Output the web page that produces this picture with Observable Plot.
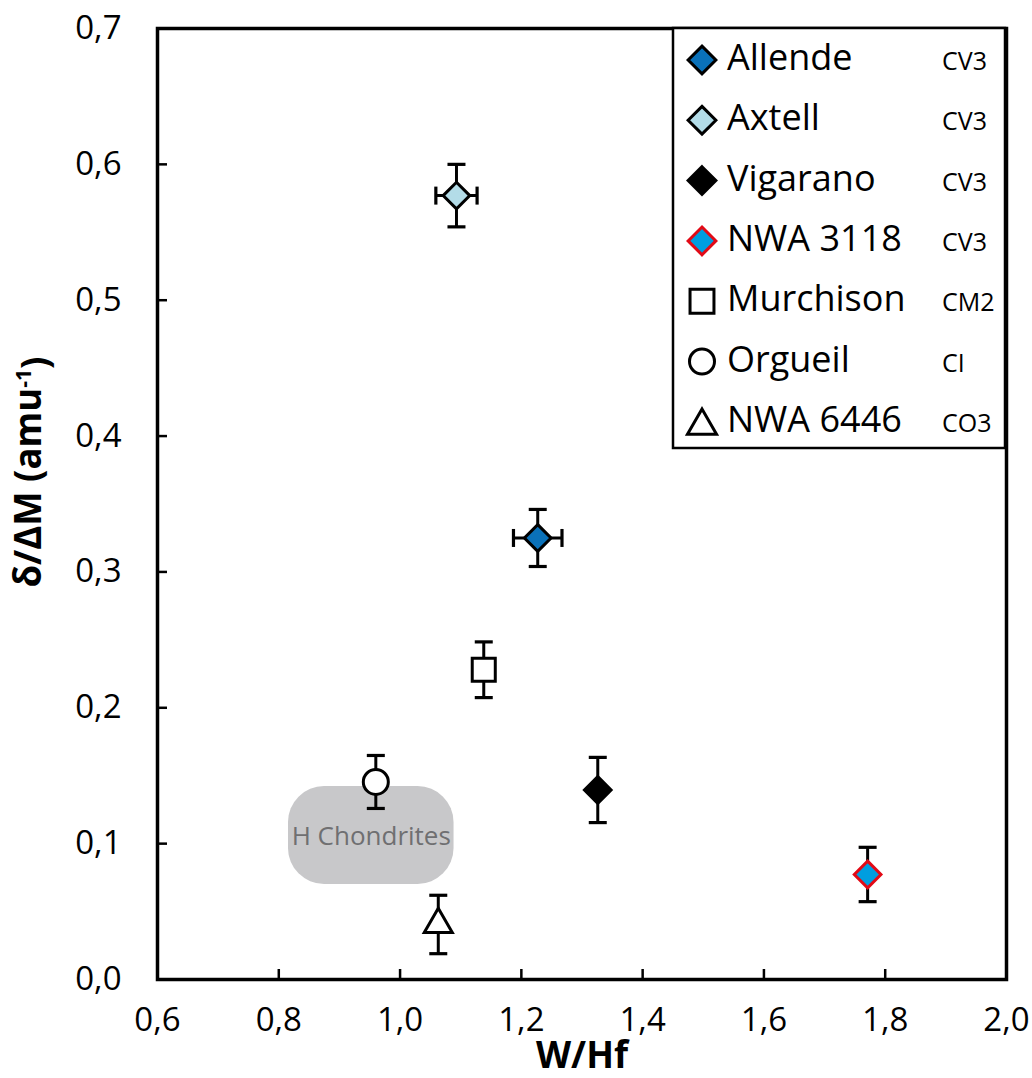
<!DOCTYPE html>
<html><head><meta charset="utf-8">
<script src="https://cdn.jsdelivr.net/npm/d3@7"></script>
<script src="https://cdn.jsdelivr.net/npm/@observablehq/plot@0.6"></script>
<style>
html,body{margin:0;padding:0;background:#fff;}
#chart{position:relative;width:1032px;height:1078px;}
</style></head><body><div id="chart"></div>
<script>
// ---- data ----
const samples = ["Allende", "Axtell", "Vigarano", "NWA 3118", "Murchison", "Orgueil", "NWA 6446"];
const groups = ["CV3", "CV3", "CV3", "CV3", "CM2", "CI", "CO3"];
const wHf = [1.227, 1.093, 1.326, 1.771, 1.138, 0.960, 1.063];
const wHfErr = [0.040, 0.034, 0, 0, 0, 0, 0];
const deltaPerAmu = [0.325, 0.577, 0.1395, 0.0773, 0.228, 0.1454, 0.0405];
const deltaErr = [0.021, 0.023, 0.024, 0.020, 0.0205, 0.0195, 0.0215];
const hChondritesWHf = [0.816, 1.089];
const hChondritesDelta = [0.070, 0.142];
const hChondritesLabel = "H Chondrites";
const xTicks = [0.6, 0.8, 1.0, 1.2, 1.4, 1.6, 1.8, 2.0];
const yTicks = [0, 0.1, 0.2, 0.3, 0.4, 0.5, 0.6, 0.7];
const xTitle = "W/Hf";
const yTitleMain = "δ/ΔM (amu";
const yTitleSup = "-1";
const yTitleEnd = ")";

// ---- styles ----
const styles = {
  "Allende":   {symbol: "diamond2", d3sym: d3.symbolDiamond2, fill: "#0a71b9", stroke: "#000", r: 12.0, lr: 12.5},
  "Axtell":    {symbol: "diamond2", d3sym: d3.symbolDiamond2, fill: "#b3dce8", stroke: "#000", r: 12.0, lr: 12.5},
  "Vigarano":  {symbol: "diamond2", d3sym: d3.symbolDiamond2, fill: "#000", stroke: "#000", r: 12.0, lr: 12.5},
  "NWA 3118":  {symbol: "diamond2", d3sym: d3.symbolDiamond2, fill: "#009ee0", stroke: "#e20a16", r: 12.0, lr: 12.5},
  "Murchison": {symbol: "square", d3sym: d3.symbolSquare, fill: "#fff", stroke: "#000", r: 13.0, lr: 13.5},
  "Orgueil":   {symbol: "circle", d3sym: d3.symbolCircle, fill: "#fff", stroke: "#000", r: 12.5, lr: 12.5},
  "NWA 6446":  {symbol: "triangle", d3sym: d3.symbolTriangle, fill: "#fff", stroke: "#000", r: 10.4, lr: 10.8}
};

const data = samples.map((s, i) => ({
  name: s, group: groups[i], x: wHf[i], xe: wHfErr[i], y: deltaPerAmu[i], ye: deltaErr[i]
}));
const withXerr = data.filter(d => d.xe > 0);
const hc = [{x1: hChondritesWHf[0], x2: hChondritesWHf[1], y1: hChondritesDelta[0], y2: hChondritesDelta[1]}];

const hCap = {draw(ctx, size) { const w = Math.sqrt(size) / 2; ctx.moveTo(-w, 0); ctx.lineTo(w, 0); }};
const vCap = {draw(ctx, size) { const w = Math.sqrt(size) / 2; ctx.moveTo(0, -w); ctx.lineTo(0, w); }};
const capR = 18 / Math.sqrt(Math.PI);
const fmt = d => d.toFixed(1).replace(".", ",");

const plot = Plot.plot({
  width: 1032, height: 1078,
  marginLeft: 157, marginRight: 26, marginTop: 28, marginBottom: 99,
  style: {fontFamily: "'Open Sans', sans-serif", fontSize: "33px", color: "#000", background: "#fff", overflow: "visible"},
  x: {domain: [0.6, 2.0], label: null},
  y: {domain: [0, 0.7], label: null},
  marks: [
    Plot.rect(hc, {x1: "x1", x2: "x2", y1: "y1", y2: "y2", rx: 36, fill: "#c8c8ca"}),
    Plot.text(hc, {x: d => (d.x1 + d.x2) / 2, y: d => (d.y1 + d.y2) / 2, text: () => hChondritesLabel,
      fill: "#6f6f71", fontSize: 26, dy: 1}),
    Plot.ruleX(data, {x: "x", y1: d => d.y - d.ye, y2: d => d.y + d.ye, stroke: "#000", strokeWidth: 3}),
    Plot.dot(data, {x: "x", y: d => d.y - d.ye, symbol: hCap, r: capR, stroke: "#000", strokeWidth: 3.2, fill: "none"}),
    Plot.dot(data, {x: "x", y: d => d.y + d.ye, symbol: hCap, r: capR, stroke: "#000", strokeWidth: 3.2, fill: "none"}),
    Plot.ruleY(withXerr, {y: "y", x1: d => d.x - d.xe, x2: d => d.x + d.xe, stroke: "#000", strokeWidth: 3}),
    Plot.dot(withXerr, {x: d => d.x - d.xe, y: "y", symbol: vCap, r: capR, stroke: "#000", strokeWidth: 3.2, fill: "none"}),
    Plot.dot(withXerr, {x: d => d.x + d.xe, y: "y", symbol: vCap, r: capR, stroke: "#000", strokeWidth: 3.2, fill: "none"}),
    ...data.map(d => Plot.dot([d], {x: "x", y: "y", symbol: styles[d.name].symbol, r: styles[d.name].r,
      fill: styles[d.name].fill, stroke: styles[d.name].stroke, strokeWidth: 3})),
    Plot.frame({stroke: "#000", strokeWidth: 3.5}),
    Plot.axisX({ticks: xTicks, tickFormat: fmt, tickSize: -10, tickPadding: 37.6, strokeWidth: 2.5, fontSize: 33, label: null}),
    Plot.axisY({ticks: yTicks, tickFormat: fmt, tickSize: -10, tickPadding: 46, strokeWidth: 2.5, fontSize: 33, label: null}),
    Plot.text([xTitle], {frameAnchor: "bottom", text: d => d, dy: 76, fontSize: 38, fontWeight: "bold",
      textAnchor: "middle", lineAnchor: "middle"}),
    Plot.text([yTitleMain], {frameAnchor: "left", text: d => d, rotate: -90, dx: -129, dy: -32, fontSize: 38, fontWeight: "bold",
      textAnchor: "middle", lineAnchor: "middle"})
  ]
});

document.getElementById("chart").appendChild(plot);
const svg = d3.select(plot);
const texts = svg.selectAll("text");

// x title condensed look
texts.filter(function() { return this.textContent === xTitle; })
  .attr("textLength", 92).attr("lengthAdjust", "spacingAndGlyphs");
// y title with superscript
const yt = texts.filter(function() { return this.textContent === yTitleMain; });
yt.text(null);
yt.append("tspan").text(yTitleMain);
yt.append("tspan").attr("dy", "-0.45em").attr("font-size", "22px").text(yTitleSup);
yt.append("tspan").attr("dy", "0.45em").text(yTitleEnd);
yt.attr("textLength", 231).attr("lengthAdjust", "spacingAndGlyphs");

// ---- legend ----
const lg = svg.append("g").attr("class", "legend").attr("text-anchor", "start");
lg.append("rect").attr("x", 673).attr("y", 28).attr("width", 332).attr("height", 420)
  .attr("fill", "#fff").attr("stroke", "#000").attr("stroke-width", 2.5);
samples.forEach((s, i) => {
  const cy = 60 + i * 60.3;
  const st = styles[s];
  const off = st.symbol === "triangle" ? 4 : 0;
  lg.append("path").attr("transform", `translate(702,${cy + off})`)
    .attr("d", d3.symbol(st.d3sym, Math.PI * st.lr * st.lr)())
    .attr("fill", st.fill).attr("stroke", st.stroke).attr("stroke-width", 3);
  lg.append("text").attr("x", 727).attr("y", cy + 10).attr("font-size", 36).attr("text-anchor", "start")
    .attr("font-family", "'Open Sans', sans-serif").text(s);
  lg.append("text").attr("x", 942).attr("y", cy + 10).attr("font-size", 25).attr("text-anchor", "start")
    .attr("font-family", "'Open Sans', sans-serif").text(groups[i]);
});
</script></body></html>
